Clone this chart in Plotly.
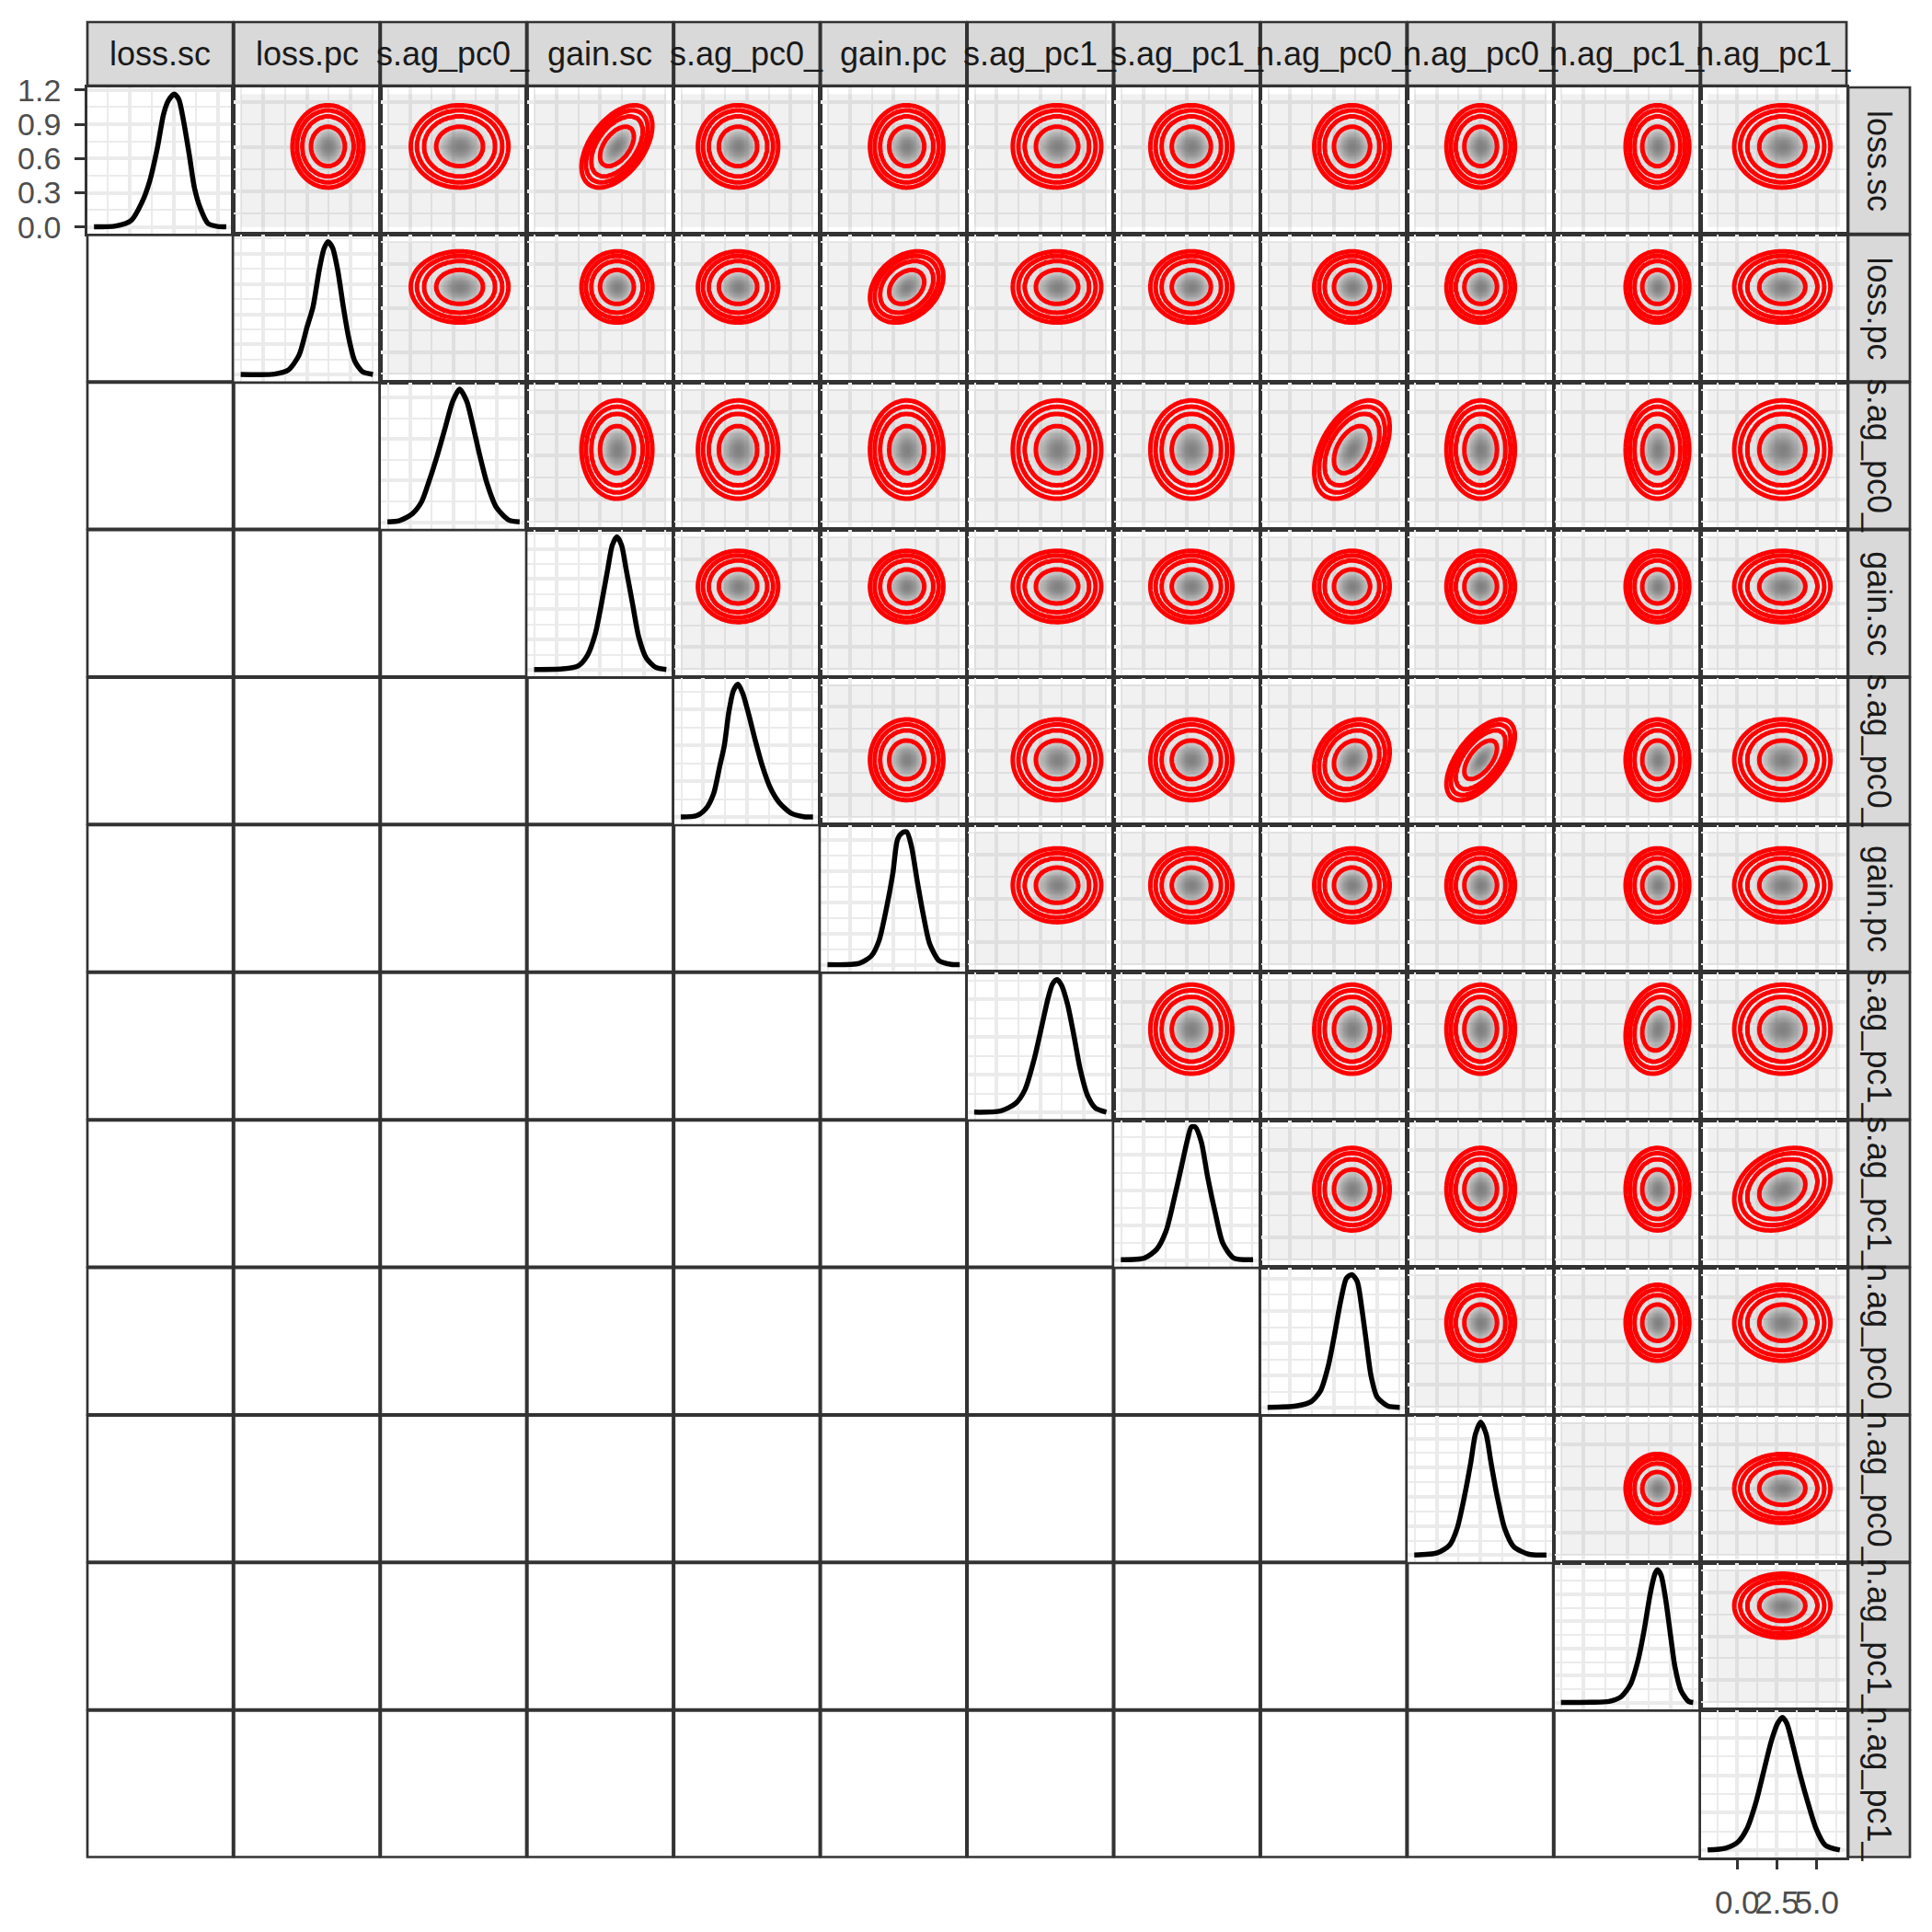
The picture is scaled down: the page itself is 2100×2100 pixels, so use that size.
import numpy as np
import plotly.graph_objects as go

# ---------------- data ----------------
LABELS = ["loss.sc", "loss.pc", "s.ag_pc0_", "gain.sc", "s.ag_pc0_", "gain.pc",
          "s.ag_pc1_", "s.ag_pc1_", "n.ag_pc0_", "n.ag_pc0_", "n.ag_pc1_", "n.ag_pc1_"]

# marginal density curves (diagonal panels): x values and density values
v00_x = [-1.802, -1.310, -0.963, -0.720, -0.546, -0.372, -0.235, -0.130, 0.008, 0.113, 0.218, 0.356, 0.461, 0.599, 0.772, 0.982, 1.182]
v00_y = [0.002, 0.010, 0.058, 0.217, 0.402, 0.693, 0.984, 1.103, 1.164, 1.116, 0.931, 0.613, 0.349, 0.164, 0.031, 0.006, 0.002]
v01_x = [-4.55, -2.23, -1.28, -0.53, 0.0, 0.43, 0.85, 1.17, 1.45, 1.77, 2.13, 2.51, 2.87, 3.3, 3.83, 4.55]
v01_y = [0.001, 0.002, 0.015, 0.065, 0.155, 0.225, 0.345, 0.415, 0.44, 0.42, 0.345, 0.225, 0.125, 0.045, 0.010, 0.001]
v02_x = [-4.55, -3.71, -2.85, -2.2, -1.67, -1.13, -0.59, -0.05, 0.42, 0.91, 1.34, 1.77, 2.31, 2.96, 3.82, 4.55]
v02_y = [0.001, 0.004, 0.020, 0.049, 0.100, 0.159, 0.225, 0.291, 0.32, 0.291, 0.232, 0.166, 0.093, 0.035, 0.005, 0.001]
v03_x = [-4.55, -2.59, -1.52, -0.88, -0.34, 0.09, 0.51, 0.83, 1.15, 1.47, 1.79, 2.22, 2.65, 3.18, 3.82, 4.55]
v03_y = [0.001, 0.003, 0.013, 0.048, 0.119, 0.22, 0.331, 0.412, 0.44, 0.412, 0.331, 0.22, 0.109, 0.038, 0.008, 0.001]
v04_x = [-4.55, -3.45, -2.82, -2.29, -1.87, -1.55, -1.24, -0.92, -0.61, -0.29, 0.13, 0.55, 1.07, 1.6, 2.23, 3.07, 3.91, 4.55]
v04_y = [0.001, 0.005, 0.024, 0.066, 0.142, 0.201, 0.294, 0.353, 0.37, 0.345, 0.286, 0.218, 0.142, 0.083, 0.041, 0.011, 0.002, 0.001]
v05_x = [-4.55, -2.37, -1.53, -1.0, -0.47, -0.05, 0.27, 0.59, 0.9, 1.22, 1.64, 2.06, 2.48, 3.12, 3.96, 4.55]
v05_y = [0.001, 0.005, 0.029, 0.078, 0.186, 0.293, 0.401, 0.422, 0.425, 0.381, 0.264, 0.156, 0.068, 0.014, 0.002, 0.001]
v06_x = [-4.55, -2.75, -1.7, -1.06, -0.43, 0.1, 0.52, 0.84, 1.15, 1.47, 1.89, 2.31, 2.74, 3.26, 3.79, 4.55]
v06_y = [0.001, 0.004, 0.024, 0.06, 0.14, 0.229, 0.301, 0.341, 0.353, 0.337, 0.285, 0.205, 0.116, 0.044, 0.012, 0.001]
v07_x = [-4.55, -2.92, -2.08, -1.44, -0.91, -0.38, 0.04, 0.3, 0.57, 0.99, 1.41, 1.94, 2.47, 3.21, 4.55]
v07_y = [0.001, 0.006, 0.031, 0.083, 0.17, 0.267, 0.345, 0.38, 0.38, 0.337, 0.24, 0.136, 0.048, 0.006, 0.001]
v08_x = [-4.55, -2.6, -1.54, -0.91, -0.38, 0.04, 0.46, 0.88, 1.26, 1.62, 1.94, 2.25, 2.57, 2.99, 3.73, 4.55]
v08_y = [0.001, 0.005, 0.019, 0.052, 0.128, 0.222, 0.326, 0.402, 0.413, 0.392, 0.307, 0.203, 0.099, 0.033, 0.005, 0.001]
v09_x = [-4.55, -2.97, -2.13, -1.6, -1.08, -0.65, -0.34, 0.02, 0.4, 0.72, 1.14, 1.67, 2.3, 3.35, 4.55]
v09_y = [0.001, 0.008, 0.034, 0.092, 0.206, 0.321, 0.415, 0.456, 0.415, 0.321, 0.206, 0.092, 0.029, 0.003, 0.001]
v10_x = [-4.55, -2.51, -1.24, -0.4, 0.23, 0.76, 1.18, 1.6, 1.92, 2.09, 2.34, 2.66, 2.97, 3.29, 3.71, 4.24, 4.55]
v10_y = [0.001, 0.002, 0.005, 0.023, 0.067, 0.157, 0.269, 0.403, 0.475, 0.49, 0.47, 0.38, 0.257, 0.134, 0.045, 0.005, 0.001]
v11_x = [-1.854, -0.722, 0.045, 0.62, 1.204, 1.679, 2.163, 2.547, 2.839, 3.122, 3.514, 3.989, 4.473, 4.957, 5.532, 6.454]
v11_y = [0.001, 0.006, 0.022, 0.058, 0.131, 0.212, 0.293, 0.338, 0.354, 0.338, 0.277, 0.196, 0.123, 0.058, 0.014, 0.001]

# pairwise correlations (upper panels not listed are ~0)
CORR_ROW = [0, 1, 2, 4, 4, 6, 7]
CORR_COL = [3, 5, 8, 8, 9, 10, 11]
CORR_VAL = [0.5, 0.3, 0.45, 0.2, 0.6, 0.15, 0.25]

# credible-region levels drawn as red contours (fraction of peak density)
HPD_LEVELS = [0.05, 0.1, 0.2, 0.5]
KDE_INFL = 1.1

# ---------------- styles ----------------
X_DTICK = [1.0, 3, 3, 3, 3, 3, 3, 3, 3, 3, 3, 2.5]
Y_DTICK = [0.3, 0.1, 0.1, 0.1, 0.1, 0.1, 0.1, 0.1, 0.1, 0.1, 0.1, 0.1]
FONT = "Liberation Sans"
GRID = "#ebebeb"
BORDER = "#333333"

OFF = 8.0           # page body margin
W = H = 2092
GRID_L, GRID_T = 95.0, 95.0
PITCH_X, PITCH_Y = 159.45, 160.4
PANEL_W, PANEL_H = 158.1, 159.1
STRIP_T, STRIP_B = 24.0, 93.0
RSTRIP_L, RSTRIP_R = 2009.0, 2076.0


def fx(p):
    return (p - OFF) / W


def fy(p):
    return 1 - (p - OFF) / H


def box(i, j):
    x0 = GRID_L + j * PITCH_X
    y0 = GRID_T + i * PITCH_Y
    return x0, x0 + PANEL_W, y0, y0 + PANEL_H


def half_width_sd(x, y):
    k = int(np.argmax(y))
    h = y[k] / 2
    i = k
    while i > 0 and y[i - 1] >= h:
        i -= 1
    xl = x[i - 1] + (h - y[i - 1]) * (x[i] - x[i - 1]) / (y[i] - y[i - 1])
    i = k
    while i < len(y) - 1 and y[i + 1] >= h:
        i += 1
    xr = x[i] + (y[i] - h) * (x[i + 1] - x[i]) / (y[i] - y[i + 1])
    return (xr - xl) / 2.3548


DENS = [(v00_x, v00_y), (v01_x, v01_y), (v02_x, v02_y), (v03_x, v03_y), (v04_x, v04_y),
        (v05_x, v05_y), (v06_x, v06_y), (v07_x, v07_y), (v08_x, v08_y), (v09_x, v09_y),
        (v10_x, v10_y), (v11_x, v11_y)]
N = len(LABELS)

lo, hi, rng, mode, sd, ymax = [], [], [], [], [], []
for xs, ys in DENS:
    x = np.array(xs, float)
    y = np.array(ys, float)
    a, b = x[0], x[-1]
    R = b - a
    lo.append(a)
    hi.append(b)
    rng.append([a - 0.05 * R, b + 0.05 * R])
    mode.append(x[np.argmax(y)])
    sd.append(half_width_sd(x, y))
    ymax.append(y.max())

rho = {}
for r_, c_, v_ in zip(CORR_ROW, CORR_COL, CORR_VAL):
    rho[(r_, c_)] = v_

fig = go.Figure()
layout = dict(width=W, height=H, margin=dict(l=0, r=0, t=0, b=0, autoexpand=False),
              plot_bgcolor="white", paper_bgcolor="white", showlegend=False,
              hovermode=False)
shapes = []
annotations = []

gray_scale = [[0.0, "rgba(128,128,128,0.11)"], [0.4, "rgba(128,128,128,0.12)"],
              [0.6, "rgba(128,128,128,0.17)"], [0.8, "rgba(128,128,128,0.30)"],
              [1.0, "rgba(118,118,118,0.92)"]]


def axis_common(dom, r, dt):
    return dict(domain=dom, range=r, showgrid=True, gridcolor=GRID, gridwidth=3.5,
                tick0=0, dtick=dt,
                minor=dict(tick0=0, dtick=dt / 2, showgrid=True, gridcolor=GRID, gridwidth=1.8),
                showticklabels=False, ticks="", zeroline=False, showline=True, mirror=True,
                linecolor=BORDER, linewidth=2.7, fixedrange=True)


n = 0
for i in range(N):
    for j in range(N):
        x0, x1, y0, y1 = box(i, j)
        if j < i:
            shapes.append(dict(type="rect", xref="paper", yref="paper",
                               x0=fx(x0), x1=fx(x1), y0=fy(y1), y1=fy(y0),
                               line=dict(color=BORDER, width=2.7), fillcolor="white"))
            continue
        n += 1
        xa = "x" if n == 1 else f"x{n}"
        ya = "y" if n == 1 else f"y{n}"
        xkey = "xaxis" if n == 1 else f"xaxis{n}"
        ykey = "yaxis" if n == 1 else f"yaxis{n}"
        xax = axis_common([fx(x0), fx(x1)], rng[j], X_DTICK[j])
        xax["anchor"] = ya
        if i == j:
            M = ymax[i]
            yax = axis_common([fy(y1), fy(y0)], [-0.05 * M, 1.05 * M], Y_DTICK[i])
            fig.add_trace(go.Scatter(x=DENS[i][0], y=DENS[i][1], mode="lines",
                                     line=dict(color="black", width=5.5, shape="spline", smoothing=0.7),
                                     xaxis=xa, yaxis=ya, hoverinfo="skip"))
        else:
            yax = axis_common([fy(y1), fy(y0)], rng[i], X_DTICK[i])
            gx = np.linspace(lo[j], hi[j], 90)
            gy = np.linspace(lo[i], hi[i], 90)
            X, Y = np.meshgrid(gx, gy)
            r = rho.get((i, j), 0.0)
            dx = (X - mode[j]) / (KDE_INFL * sd[j])
            dy = (Y - mode[i]) / (KDE_INFL * sd[i])
            Q = (dx ** 2 - 2 * r * dx * dy + dy ** 2) / (1 - r ** 2)
            z = np.exp(-0.5 * Q)
            wz = np.interp(z, [0.0] + HPD_LEVELS + [1.0], [0, 1, 2, 3, 4, 5])
            fig.add_trace(go.Contour(x=gx, y=gy, z=np.round(wz, 4), xaxis=xa, yaxis=ya,
                                     contours=dict(start=1, end=4, size=1, coloring="heatmap"),
                                     colorscale=gray_scale, zmin=0, zmax=5, showscale=False,
                                     line=dict(color="#ff0000", width=5, smoothing=1.0),
                                     hoverinfo="skip"))
        yax["anchor"] = xa
        if i == 0 and j == 0:
            yax.update(showticklabels=True, ticks="outside", ticklen=11, tickwidth=2.5,
                       tickcolor=BORDER, tickformat=".1f", ticklabelstandoff=8,
                       tickfont=dict(family=FONT, size=34, color="#4d4d4d"))
        if i == N - 1 and j == N - 1:
            xax.update(showticklabels=True, ticks="outside", ticklen=11, tickwidth=2.5,
                       tickcolor=BORDER, tickformat=".1f", ticklabelstandoff=6, tickangle=0,
                       tickfont=dict(family=FONT, size=35, color="#4d4d4d"))
        layout[xkey] = xax
        layout[ykey] = yax

# strips
for k in range(N):
    x0, x1, _, _ = box(0, k)
    shapes.append(dict(type="rect", xref="paper", yref="paper", x0=fx(x0), x1=fx(x1),
                       y0=fy(STRIP_B), y1=fy(STRIP_T), line=dict(color=BORDER, width=2.7),
                       fillcolor="#d9d9d9"))
    annotations.append(dict(xref="paper", yref="paper", x=fx((x0 + x1) / 2), y=fy((STRIP_T + STRIP_B) / 2),
                            text=LABELS[k], showarrow=False, xanchor="center", yanchor="middle",
                            font=dict(family=FONT, size=36, color="#1a1a1a")))
    _, _, y0, y1 = box(k, 0)
    shapes.append(dict(type="rect", xref="paper", yref="paper", x0=fx(RSTRIP_L), x1=fx(RSTRIP_R),
                       y0=fy(y1), y1=fy(y0), line=dict(color=BORDER, width=2.7),
                       fillcolor="#d9d9d9"))
    annotations.append(dict(xref="paper", yref="paper", x=fx((RSTRIP_L + RSTRIP_R) / 2), y=fy((y0 + y1) / 2),
                            text=LABELS[k], showarrow=False, xanchor="center", yanchor="middle",
                            textangle=90, font=dict(family=FONT, size=36, color="#1a1a1a")))

layout["shapes"] = shapes
layout["annotations"] = annotations
fig.update_layout(**layout)
fig.write_html("out.html")
